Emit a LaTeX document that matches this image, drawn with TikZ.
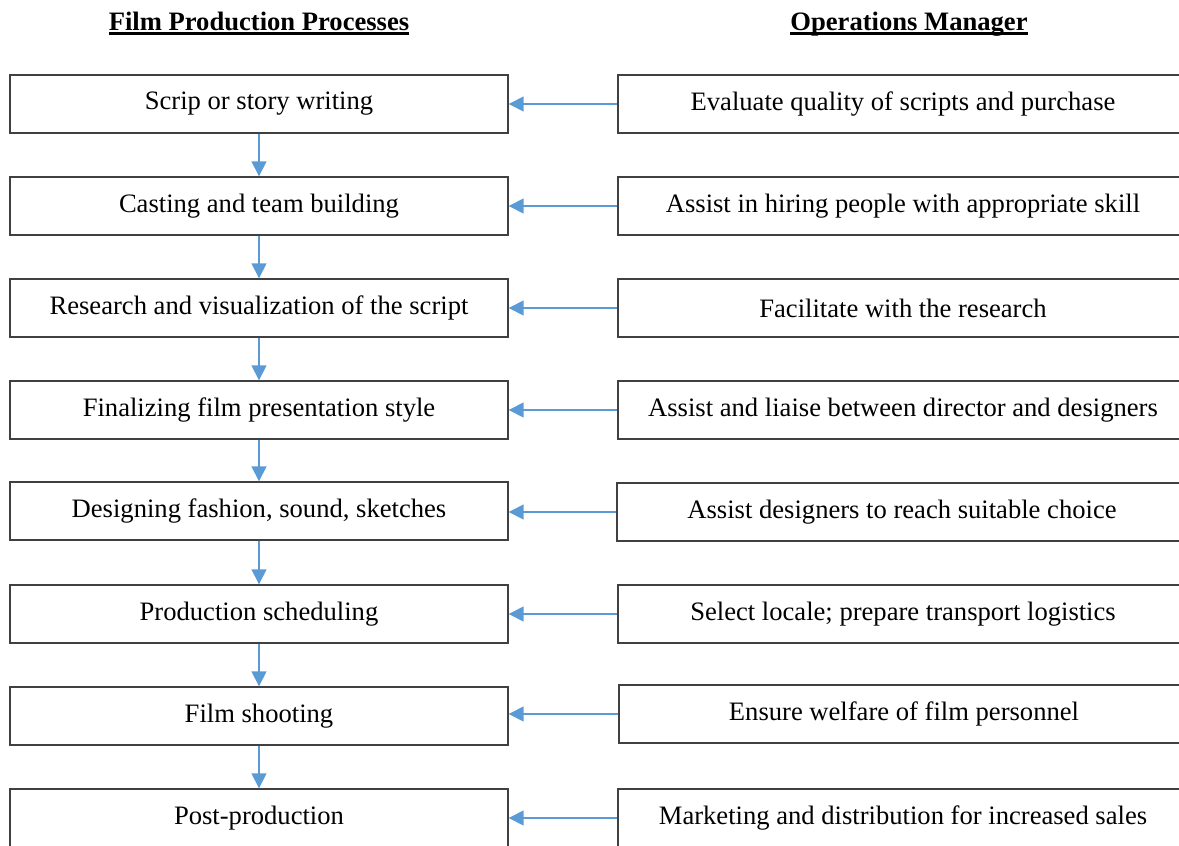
\documentclass[tikz,border=0pt]{standalone}
\usepackage{fontspec}
\setmainfont{Liberation Serif}
\usetikzlibrary{arrows.meta}
\definecolor{arrowblue}{RGB}{91,155,213}
\definecolor{boxgray}{RGB}{64,64,64}

\begin{document}
\begin{tikzpicture}[x=1pt, y=-1pt,
    box/.style={draw=boxgray, line width=1.4pt, inner sep=0pt, minimum height=58pt, font=\fontsize{26.6}{30}\selectfont},
    proc/.style={box, minimum width=498pt},
    ops/.style={box, minimum width=570pt},
    flow/.style={draw=arrowblue, line width=1.5pt, -{Triangle[length=15pt,width=15pt]}},
    heading/.style={inner sep=0pt, anchor=base, font=\fontsize{26.6}{30}\selectfont\bfseries}]
    \useasboundingbox (0,0) rectangle (1179,846);
    \node[heading] (hproc) at (259,30) {Film Production Processes};
    \node[heading] (hops) at (909,30) {Operations Manager};
    \draw[line width=2.6pt] ([yshift=-3.6pt]hproc.base west) -- ([yshift=-3.6pt]hproc.base east);
    \draw[line width=2.6pt] ([yshift=-3.6pt]hops.base west) -- ([yshift=-3.6pt]hops.base east);
    % film production processes
    \node[proc] (p1) at (259,104) {Scrip or story writing};
    \node[proc] (p2) at (259,206) {Casting and team building};
    \node[proc] (p3) at (259,308) {Research and visualization of the script};
    \node[proc] (p4) at (259,410) {Finalizing film presentation style};
    \node[proc] (p5) at (259,511) {Designing fashion, sound, sketches};
    \node[proc] (p6) at (259,614) {Production scheduling};
    \node[proc] (p7) at (259,716) {Film shooting};
    \node[proc] (p8) at (259,818) {Post-production};
    % operations manager
    \node[ops] (o1) at (903,104) {Evaluate quality of scripts and purchase};
    \node[ops] (o2) at (903,206) {Assist in hiring people with appropriate skill};
    \node[ops] (o3) at (903,308) {Facilitate with the research};
    \node[ops] (o4) at (903,410) {Assist and liaise between director and designers};
    \node[ops] (o5) at (902,512) {Assist designers to reach suitable choice};
    \node[ops] (o6) at (903,614) {Select locale; prepare transport logistics};
    \node[ops] (o7) at (904,714) {Ensure welfare of film personnel};
    \node[ops] (o8) at (903,818) {Marketing and distribution for increased sales};
    \draw[flow] (p1) -- (p2);
    \draw[flow] (p2) -- (p3);
    \draw[flow] (p3) -- (p4);
    \draw[flow] (p4) -- (p5);
    \draw[flow] (p5) -- (p6);
    \draw[flow] (p6) -- (p7);
    \draw[flow] (p7) -- (p8);
    \draw[flow] (o1.west) -- (o1.west -| p1.east);
    \draw[flow] (o2.west) -- (o2.west -| p2.east);
    \draw[flow] (o3.west) -- (o3.west -| p3.east);
    \draw[flow] (o4.west) -- (o4.west -| p4.east);
    \draw[flow] (o5.west) -- (o5.west -| p5.east);
    \draw[flow] (o6.west) -- (o6.west -| p6.east);
    \draw[flow] (o7.west) -- (o7.west -| p7.east);
    \draw[flow] (o8.west) -- (o8.west -| p8.east);
\end{tikzpicture}
\end{document}
